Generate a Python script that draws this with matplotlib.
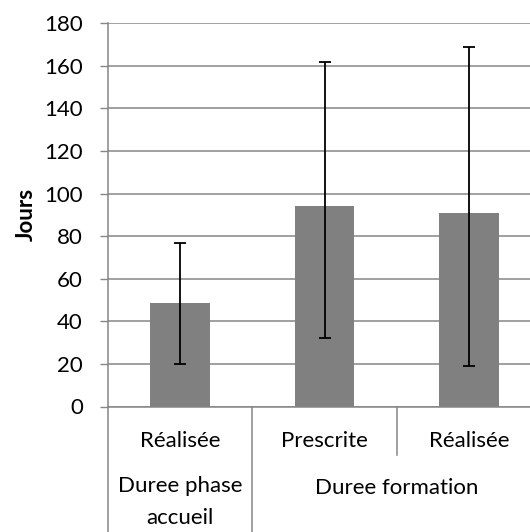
import matplotlib.pyplot as plt
from matplotlib.lines import Line2D

# --- Data ---
categories = ["Réalisée", "Prescrite", "Réalisée"]
groups = ["Duree phase\naccueil", "Duree formation"]
group_sizes = [1, 2]
means = [48.5, 94, 91]
err_low = [20, 32, 19]
err_high = [77, 162, 169]

GRID = "#868686"
BAR = "#808080"
FS = 16

plt.rcParams["font.family"] = ["Lato", "DejaVu Sans"]

fig = plt.figure(figsize=(5.30, 5.32), dpi=100)
# axes runs past the right edge of the picture, as in the reference
ax = fig.add_axes([108 / 530, 1 - 406.5 / 532, 433 / 530, 383.2 / 532])

x = list(range(len(categories)))
yerr = [[m - lo for m, lo in zip(means, err_low)],
        [hi - m for m, hi in zip(means, err_high)]]
ax.bar(x, means, width=0.415, color=BAR, zorder=2)
ax.errorbar(x, means, yerr=yerr, fmt="none", ecolor="black",
            elinewidth=1.3, capsize=4.3, capthick=1.3, zorder=3)

ax.set_xlim(-0.5, len(categories) - 0.5)
ax.set_ylim(0, 180)
ax.set_yticks(range(0, 181, 20))
ax.yaxis.grid(True, color=GRID, linewidth=1.1, zorder=0)
ax.set_axisbelow(True)
ax.tick_params(axis="y", length=6, width=1, color=GRID, pad=12, labelsize=FS)
ax.tick_params(axis="x", bottom=False, labelbottom=False)
for s in ["top", "right"]:
    ax.spines[s].set_visible(False)
for s in ["left", "bottom"]:
    ax.spines[s].set_color(GRID)
    ax.spines[s].set_linewidth(1.1)

ax.set_ylabel("Jours", fontsize=FS, fontweight="bold", labelpad=5)

# --- Hierarchical category axis ---
tr = ax.get_xaxis_transform()
for i, c in enumerate(categories):
    ax.text(i, -0.09, c, transform=tr, ha="center", va="center", fontsize=FS)

start = 0
for g, n in zip(groups, group_sizes):
    center = start - 0.5 + n / 2
    y = -0.249 if "\n" in g else -0.212
    ax.text(center, y, g, transform=tr, ha="center", va="center",
            fontsize=FS, linespacing=1.75)
    start += n

# separators: full-height between groups, short within a group
for xs in [-0.5, 0.5]:
    ax.add_line(Line2D([xs, xs], [0, -0.4], transform=tr, color=GRID,
                       linewidth=1.1, clip_on=False))
for xs in [1.5]:
    ax.add_line(Line2D([xs, xs], [0, -0.127], transform=tr, color=GRID,
                       linewidth=1.1, clip_on=False))

fig.savefig("out.png", dpi=100)
